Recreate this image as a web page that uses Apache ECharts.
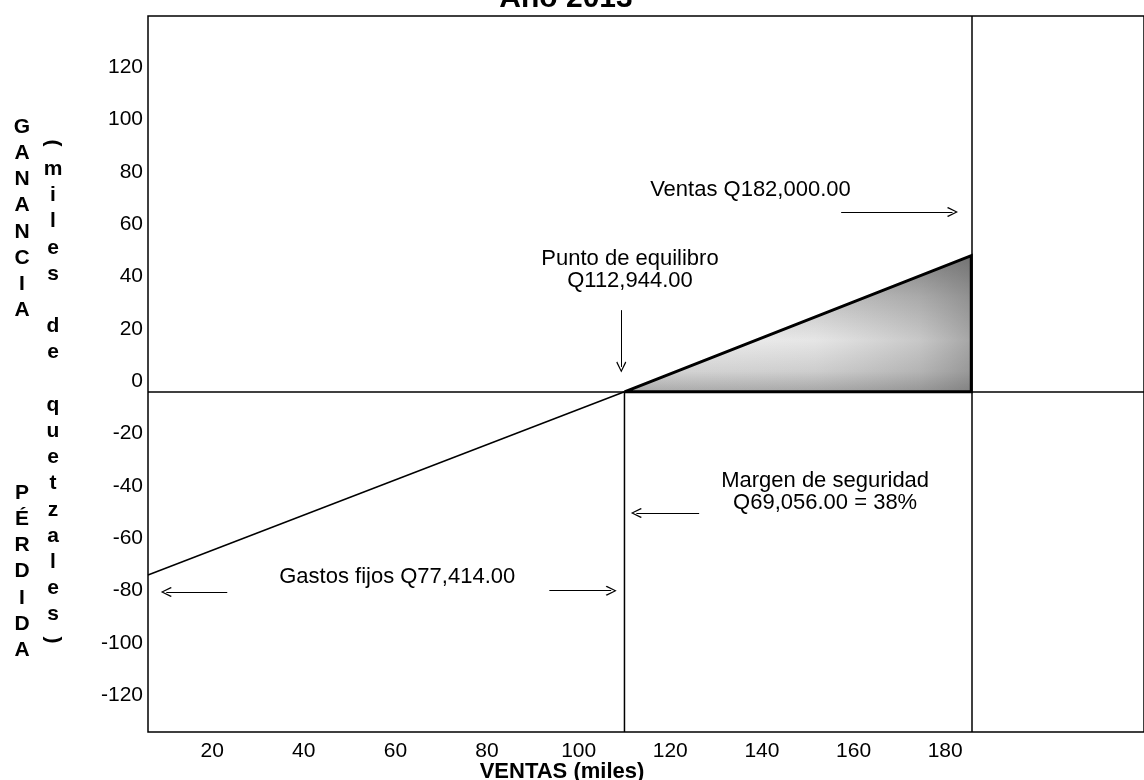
<!DOCTYPE html>
<html><head><meta charset="utf-8">
<script src="https://cdn.jsdelivr.net/npm/echarts@6/dist/echarts.min.js"></script>
<style>html,body{margin:0;padding:0;background:#fff}#c{width:1144px;height:780px}</style>
</head><body><div id="c"></div>
<script>
// ---- data ----
const xTicks = [20, 40, 60, 80, 100, 120, 140, 160, 180];
const yTicks = [-120, -100, -80, -60, -40, -20, 0, 20, 40, 60, 80, 100, 120];
const xRange = [6, 223.4];
const yRange = [-130, 143.6];
const startPoint = [6, -70];        // loss at the left edge of the plot
const breakEvenX = 110;             // punto de equilibrio (as drawn)
const salesX = 185.7;               // ventas (as drawn)
const profitAtSales = 52;           // ganancia at the sales line
const labelTexts = ['Ventas Q182,000.00', 'Punto de equilibro\nQ112,944.00', 'Margen de seguridad\nQ69,056.00 = 38%', 'Gastos fijos Q77,414.00'];
const labelAnchors = [[137.5, 77], [111.2, 46.5], [153.8, -38.3], [60.4, -70.8]];
const arrowFrom = [[157.3, 68.7], [109.3, 31.2], [126.3, -46.3], [23.3, -76.5], [93.6, -76]];
const arrowTo   = [[181.6, 68.7], [109.3, 9.5], [112.6, -46.3], [10.0, -76.5], [107.1, -76]];

const FONT = '"Liberation Sans", Arial, sans-serif';
const chevron = 'path://M5,0L10,9L9,10L5,2.2L1,10L0,9Z';

const chart = echarts.init(document.getElementById('c'), null, {renderer: 'canvas'});

const triangle = [[breakEvenX, 0], [salesX, profitAtSales], [salesX, 0], [breakEvenX, 0]];

const option = {
  animation: false,
  backgroundColor: '#fff',
  grid: {left: 148, top: 16, right: -2, bottom: 48, show: true, borderColor: '#000', borderWidth: 1.5},
  xAxis: {
    type: 'value', min: xRange[0], max: xRange[1],
    axisLine: {show: false}, axisTick: {show: false}, splitLine: {show: false},
    axisLabel: {customValues: xTicks, color: '#000', fontSize: 21, fontFamily: FONT, margin: 9}
  },
  yAxis: {
    type: 'value', min: yRange[0], max: yRange[1],
    axisLine: {show: false}, axisTick: {show: false}, splitLine: {show: false},
    axisLabel: {customValues: yTicks, color: '#000', fontSize: 21, fontFamily: FONT, margin: 5, verticalAlign: 'bottom'}
  },
  series: [
    {
      type: 'line', name: 'perdida', data: [startPoint, [breakEvenX, 0]],
      symbol: 'none', lineStyle: {color: '#000', width: 1.5}, z: 3,
      markLine: {
        silent: true, symbol: ['none', 'none'], label: {show: false},
        lineStyle: {color: '#000', width: 1.5, type: 'solid'},
        data: [{yAxis: 0}, {xAxis: salesX}]
      }
    },
    {
      type: 'line', name: 'ganancia-fondo', data: triangle,
      symbol: 'none', lineStyle: {width: 0}, z: 4,
      areaStyle: {
        opacity: 1,
        color: {type: 'linear', x: 0, y: 0, x2: 0, y2: 1, colorStops: [
          {offset: 0, color: '#8e8e8e'}, {offset: 0.3, color: '#c4c4c4'}, {offset: 0.62, color: '#ececec'},
          {offset: 0.85, color: '#d2d2d2'}, {offset: 1, color: '#a9a9a9'}
        ]}
      }
    },
    {
      type: 'line', name: 'ganancia', data: triangle,
      symbol: 'none', lineStyle: {color: '#000', width: 3, join: 'miter'}, z: 5,
      areaStyle: {
        opacity: 1,
        color: {type: 'linear', x: 0, y: 0, x2: 1, y2: 0, colorStops: [
          {offset: 0, color: 'rgba(255,255,255,0)'}, {offset: 0.55, color: 'rgba(110,110,110,0.05)'},
          {offset: 0.85, color: 'rgba(90,90,90,0.25)'}, {offset: 1, color: 'rgba(80,80,80,0.45)'}
        ]}
      }
    },
    {
      type: 'line', name: 'equilibrio', data: [[breakEvenX, yRange[0]], [breakEvenX, 0]],
      symbol: 'none', lineStyle: {color: '#000', width: 1.5}, z: 3,
      markLine: {
        silent: true, symbol: ['none', chevron], symbolSize: [10, 11], label: {show: false},
        lineStyle: {color: '#000', width: 1, type: 'solid'},
        data: arrowFrom.map((f, i) => [{coord: f}, {coord: arrowTo[i]}])
      }
    }
  ]
};
chart.setOption(option);

const graphics = [];
labelTexts.forEach((t, i) => {
  const p = chart.convertToPixel({gridIndex: 0}, labelAnchors[i]);
  graphics.push({type: 'text', x: p[0], y: p[1], z: 10, style: {
    text: t, fill: '#000', font: '22px ' + FONT, textAlign: 'center', textVerticalAlign: 'middle', lineHeight: 22
  }});
});
// title (partly cut at the top of the picture)
graphics.push({type: 'text', x: 566, y: 14, style: {text: 'Año 2013', fill: '#000', font: 'bold 30px ' + FONT, textAlign: 'center', textVerticalAlign: 'bottom'}});
// x axis name
graphics.push({type: 'text', x: 562, y: 772, style: {text: 'VENTAS (miles)', fill: '#000', font: 'bold 22px ' + FONT, textAlign: 'center', textVerticalAlign: 'middle'}});
// y axis names (stacked letters)
const stack = (s) => s.split('').join('\n');
graphics.push({type: 'text', x: 22, y: 114, style: {text: stack('GANANCIA'), fill: '#000', font: 'bold 21px ' + FONT, textAlign: 'center', textVerticalAlign: 'top', lineHeight: 26.2}});
graphics.push({type: 'text', x: 22, y: 480, style: {text: stack('PÉRDIDA'), fill: '#000', font: 'bold 21px ' + FONT, textAlign: 'center', textVerticalAlign: 'top', lineHeight: 26.2}});
graphics.push({type: 'text', x: 53, y: 130, style: {text: stack(' miles de quetzales '), fill: '#000', font: 'bold 21px ' + FONT, textAlign: 'center', textVerticalAlign: 'top', lineHeight: 26.2}});
graphics.push({type: 'text', x: 53, y: 143, rotation: -Math.PI / 2, style: {text: '(', fill: '#000', font: 'bold 21px ' + FONT, textAlign: 'center', textVerticalAlign: 'middle'}});
graphics.push({type: 'text', x: 53, y: 640, rotation: -Math.PI / 2, style: {text: ')', fill: '#000', font: 'bold 21px ' + FONT, textAlign: 'center', textVerticalAlign: 'middle'}});
chart.setOption({graphic: {elements: graphics}});
</script>
</body></html>
